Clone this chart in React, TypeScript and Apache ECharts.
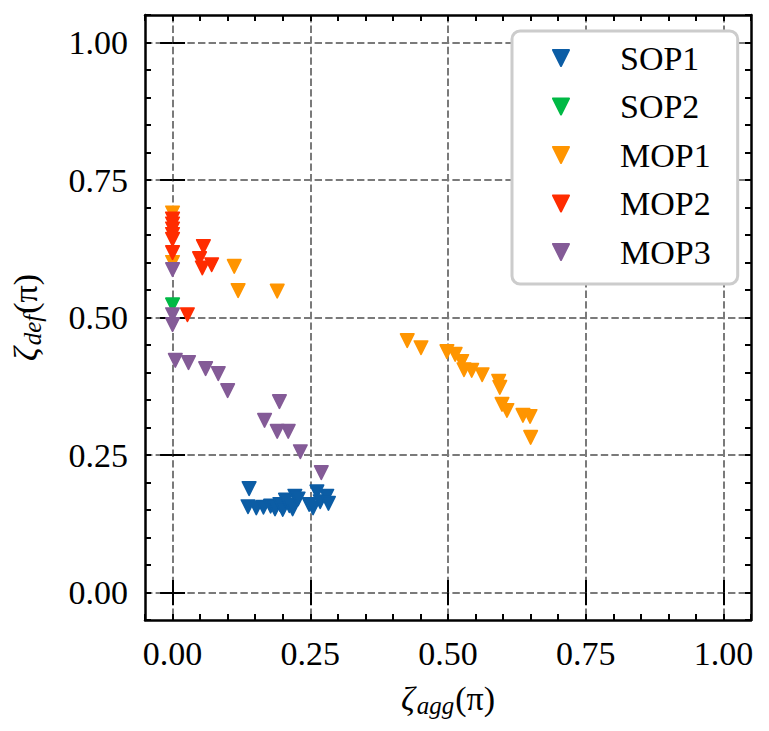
import React, { useEffect, useRef } from "react";
import * as echarts from "echarts";

const seriesNames = ["SOP1", "SOP2", "MOP1", "MOP2", "MOP3"];
const seriesColors = ["#0C5DA5", "#00B945", "#FF9500", "#FF2C00", "#845B97"];

const sop1: number[][] = [
  [0.139, 0.189], [0.137, 0.156], [0.152, 0.154], [0.165, 0.155], [0.178, 0.157],
  [0.186, 0.152], [0.195, 0.160], [0.200, 0.151], [0.205, 0.168], [0.212, 0.158],
  [0.218, 0.152], [0.222, 0.175], [0.228, 0.170], [0.248, 0.160], [0.255, 0.154],
  [0.262, 0.183], [0.268, 0.165], [0.280, 0.175], [0.283, 0.162],
];
const sop2: number[][] = [[0.0, 0.523]];
const mop1: number[][] = [
  [0.0, 0.69], [0.0, 0.6], [0.112, 0.593], [0.119, 0.549], [0.19, 0.548],
  [0.426, 0.458], [0.451, 0.445], [0.498, 0.438], [0.513, 0.433], [0.525, 0.42],
  [0.529, 0.405], [0.543, 0.404], [0.562, 0.396], [0.592, 0.384], [0.594, 0.373],
  [0.598, 0.342], [0.607, 0.331], [0.636, 0.322], [0.649, 0.32], [0.65, 0.282],
];
const mop2: number[][] = [
  [0.0, 0.679], [0.0, 0.67], [0.0, 0.661], [0.0, 0.651], [0.0, 0.642], [0.0, 0.618],
  [0.056, 0.629], [0.049, 0.607], [0.054, 0.59], [0.071, 0.596], [0.027, 0.505],
];
const mop3: number[][] = [
  [0.0, 0.587], [0.0, 0.505], [0.0, 0.487], [0.005, 0.422], [0.029, 0.418],
  [0.06, 0.407], [0.083, 0.398], [0.1, 0.367], [0.167, 0.313], [0.194, 0.347],
  [0.19, 0.293], [0.21, 0.293], [0.232, 0.256], [0.27, 0.218],
];
const seriesData = [sop1, sop2, mop1, mop2, mop3];

const majorTicks = [0, 0.25, 0.5, 0.75, 1.0];
const axisMin = -0.05;
const axisMax = 1.05;
const minorInterval = 0.05;

const FONT = "'Liberation Serif', 'DejaVu Serif', serif";

function fmt(v: number): string {
  const r = Math.round(v * 100);
  if (r % 25 === 0) return (r / 100).toFixed(2);
  return "";
}

function makeAxes(dim: "x" | "y") {
  const pos1 = dim === "x" ? "bottom" : "left";
  const pos2 = dim === "x" ? "top" : "right";
  const base = { type: "value", min: axisMin, max: axisMax };
  const nameRich = {
    z: { fontFamily: FONT, fontSize: 34, fontStyle: "italic", lineHeight: 40, color: "#000" },
    s: { fontFamily: FONT, fontSize: 25, fontStyle: "italic", lineHeight: 22, verticalAlign: "bottom", color: "#000", padding: [0, 1, 0, 2] },
    p: { fontFamily: FONT, fontSize: 34, lineHeight: 40, color: "#000" },
  };
  const main: any = {
    ...base,
    position: pos1,
    interval: minorInterval,
    axisLine: { show: true, onZero: false, lineStyle: { color: "#000", width: 2.5 } },
    axisTick: { show: true, inside: true, length: 6, lineStyle: { color: "#000", width: 2 } },
    axisLabel: {
      show: true,
      formatter: fmt,
      fontFamily: FONT,
      fontSize: 34,
      color: "#000",
      margin: dim === "x" ? 16 : 17,
    },
    splitLine: { show: false },
    name: dim === "x" ? "{z|ζ}{s|agg}{p|(π)}" : "{z|ζ}{s|def}{p|(π)}",
    nameLocation: "middle",
    nameGap: dim === "x" ? 58 : 100,
    nameRotate: dim === "x" ? 0 : 90,
    nameTextStyle: { rich: nameRich },
  };
  const major: any = {
    ...base,
    position: pos1,
    axisLine: { show: false },
    axisTick: { show: true, inside: true, length: 12.5, customValues: majorTicks, lineStyle: { color: "#000", width: 2 } },
    axisLabel: { show: false, customValues: majorTicks },
    splitLine: { show: true, lineStyle: { color: "#7a7a7a", width: 2, type: [7.4, 3.2] } },
  };
  const minor2: any = {
    ...base,
    position: pos2,
    interval: minorInterval,
    axisLine: { show: true, onZero: false, lineStyle: { color: "#000", width: 2.5 } },
    axisTick: { show: true, inside: true, length: 6, lineStyle: { color: "#000", width: 2 } },
    axisLabel: { show: false },
    splitLine: { show: false },
  };
  const major2: any = {
    ...base,
    position: pos2,
    axisLine: { show: false },
    axisTick: { show: true, inside: true, length: 12.5, customValues: majorTicks, lineStyle: { color: "#000", width: 2 } },
    axisLabel: { show: false, customValues: majorTicks },
    splitLine: { show: false },
  };
  return [main, major, minor2, major2];
}

export default function App() {
  const ref = useRef<HTMLDivElement>(null);
  useEffect(() => {
    if (!ref.current) return;
    const chart = echarts.init(ref.current, null, { renderer: "svg" });
    const option: any = {
      animation: false,
      backgroundColor: "#ffffff",
      grid: { left: 145, right: 18, top: 15, bottom: 111, containLabel: false },
      xAxis: makeAxes("x"),
      yAxis: makeAxes("y"),
      legend: {
        orient: "vertical",
        left: 512,
        top: 31,
        data: seriesNames,
        icon: "path://M0,0L2,0L1,2Z",
        itemWidth: 16,
        itemHeight: 16,
        itemGap: 12.5,
        padding: [9, 27, 14, 40],
        backgroundColor: "#ffffff",
        borderColor: "#cccccc",
        borderWidth: 3,
        borderRadius: 8,
        textStyle: {
          fontFamily: FONT,
          fontSize: 34,
          lineHeight: 36,
          color: "#000",
          padding: [0, 0, 0, 46],
        },
      },
      series: seriesNames.map((name, i) => ({
        name,
        type: "scatter",
        xAxisIndex: 0,
        yAxisIndex: 0,
        data: seriesData[i],
        symbol: "triangle",
        symbolRotate: 180,
        symbolSize: 13.5,
        itemStyle: {
          color: seriesColors[i],
          borderColor: seriesColors[i],
          borderWidth: 1.6,
          borderJoin: "round",
          opacity: 1,
        },
        emphasis: { disabled: true },
        z: 3,
      })),
    };
    chart.setOption(option);
    return () => chart.dispose();
  }, []);
  return (
    <div
      ref={ref}
      style={{ position: "fixed", left: 0, top: 0, width: 769, height: 731, background: "#fff" }}
    />
  );
}
